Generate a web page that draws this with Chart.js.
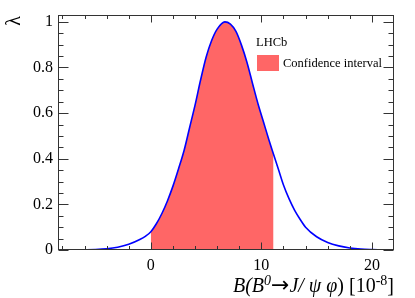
<!DOCTYPE html>
<html><head><meta charset="utf-8">
<script src="https://cdn.jsdelivr.net/npm/chart.js@4"></script>
<style>html,body{margin:0;padding:0;background:#fff;}#wrap{width:415px;height:298px;}</style>
</head><body><div id="wrap"><canvas id="c" width="415" height="298"></canvas></div>
<script>
// Data
const xValues    = [-8.4, -6, -5, -4, -3, -2, -1, -0.5, 0, 0.5, 1, 1.5, 2, 2.5, 3, 3.5, 4, 4.5, 5, 5.5, 6, 6.7, 7.2, 7.7, 8.2, 8.7, 9.2, 9.7, 10.2, 10.7, 11.1, 11.6, 12, 12.5, 13, 13.5, 14, 15, 16, 17, 18, 19, 20, 22];
const likelihood = [0, 0.001, 0.002, 0.005, 0.012, 0.025, 0.046, 0.06, 0.08, 0.115, 0.16, 0.215, 0.28, 0.355, 0.435, 0.535, 0.635, 0.745, 0.845, 0.918, 0.968, 1.0, 0.99, 0.958, 0.898, 0.822, 0.73, 0.64, 0.56, 0.48, 0.42, 0.345, 0.285, 0.225, 0.175, 0.135, 0.10, 0.058, 0.033, 0.018, 0.009, 0.004, 0.002, 0];
const ciLow = 0, ciHigh = 11.1;
const xTicks = [0, 10, 20];
const yTicks = [0, 0.2, 0.4, 0.6, 0.8, 1];
const xRange = [-8.4, 22];
const yRange = [0, 1.03];
const legendHeader = 'LHCb';
const legendLabel = 'Confidence interval';
const yTitle = 'λ';

const FONT = '"Liberation Serif", "DejaVu Serif", serif';
const curvePts = xValues.map((x, i) => ({x: x, y: likelihood[i]}));
const ciPts = curvePts.filter(p => p.x >= ciLow && p.x <= ciHigh);

const framePlugin = {
  id: 'frame',
  afterDraw(chart) {
    const ctx = chart.ctx, a = chart.chartArea;
    const xs = chart.scales.x, ys = chart.scales.y;
    ctx.save();
    ctx.strokeStyle = '#333';
    ctx.lineWidth = 1;
    const L = Math.round(a.left) + 0.5, R = Math.round(a.right) - 0.5;
    const T = Math.round(a.top) + 0.5, B = Math.round(a.bottom) - 0.5;
    ctx.strokeRect(L, T, R - L, B - T);
    ctx.beginPath();
    for (let v = -8; v <= 22; v += 2) {
      const px = Math.round(xs.getPixelForValue(v)) + 0.5;
      if (px <= L || px >= R) continue;
      const len = (v % 10 === 0) ? 7 : 3.5;
      ctx.moveTo(px, B); ctx.lineTo(px, B - len);
      ctx.moveTo(px, T); ctx.lineTo(px, T + len);
    }
    for (let k = 0; k <= 20; k++) {
      const v = k * 0.05;
      const py = Math.round(ys.getPixelForValue(v)) + 0.5;
      const len = (k % 4 === 0) ? 10 : 5;
      ctx.moveTo(L, py); ctx.lineTo(L + len, py);
      ctx.moveTo(R, py); ctx.lineTo(R - len, py);
    }
    ctx.stroke();

    // legend
    ctx.fillStyle = '#000';
    ctx.font = '12.5px ' + FONT;
    ctx.textBaseline = 'alphabetic';
    ctx.textAlign = 'left';
    ctx.fillText(legendHeader, 256, 46);
    ctx.fillStyle = '#ff6666';
    ctx.fillRect(257, 55, 22, 16);
    ctx.fillStyle = '#000';
    ctx.textBaseline = 'middle';
    ctx.fillText(legendLabel, 283, 64);

    // y title (rotated)
    ctx.save();
    ctx.translate(15, 21);
    ctx.rotate(-Math.PI / 2);
    ctx.font = '20px ' + FONT;
    ctx.textAlign = 'center';
    ctx.textBaseline = 'middle';
    ctx.fillText(yTitle, 0, 0);
    ctx.restore();

    // x title
    const parts = [
      {t: 'B(B', f: 'italic 20px ' + FONT, dy: 0},
      {t: '0', f: 'italic 14px ' + FONT, dy: -7},
      {t: '→', f: '22px "DejaVu Sans", sans-serif', dy: 0},
      {t: 'J/ ψ φ', f: 'italic 20px ' + FONT, dy: 0},
      {t: ') [10', f: '20px ' + FONT, dy: 0},
      {t: '-8', f: '14px ' + FONT, dy: -7},
      {t: ']', f: '20px ' + FONT, dy: 0}
    ];
    ctx.textBaseline = 'alphabetic';
    ctx.textAlign = 'left';
    let total = 0;
    parts.forEach(p => { ctx.font = p.f; p.w = ctx.measureText(p.t).width; total += p.w; });
    let x = 394 - total;
    parts.forEach(p => { ctx.font = p.f; ctx.fillText(p.t, x, 292 + p.dy); x += p.w; });
    ctx.restore();
  }
};

new Chart(document.getElementById('c'), {
  type: 'line',
  data: {
    datasets: [
      {
        label: 'curve', data: curvePts, borderColor: '#0000ff', borderWidth: 1.6,
        pointRadius: 0, fill: false, cubicInterpolationMode: 'monotone', order: 0
      },
      {
        label: legendLabel, data: ciPts, borderWidth: 0, borderColor: 'rgba(0,0,0,0)',
        backgroundColor: '#ff6666', pointRadius: 0, fill: 'origin',
        cubicInterpolationMode: 'monotone', order: 1
      }
    ]
  },
  options: {
    responsive: false, animation: false, devicePixelRatio: 1,
    layout: {padding: {top: 15, right: 21, left: 0, bottom: 0}},
    plugins: {legend: {display: false}, tooltip: {enabled: false}},
    scales: {
      x: {
        type: 'linear', min: xRange[0], max: xRange[1],
        afterBuildTicks: s => { s.ticks = xTicks.map(v => ({value: v})); },
        afterFit: s => { s.height = 48; },
        grid: {display: false, drawTicks: false}, border: {display: false},
        ticks: {font: {family: FONT, size: 16}, color: '#000', padding: 6, maxRotation: 0, autoSkip: false,
                callback: v => String(v)}
      },
      y: {
        min: yRange[0], max: yRange[1],
        afterBuildTicks: s => { s.ticks = yTicks.map(v => ({value: v})); },
        afterFit: s => { s.width = 58; },
        grid: {display: false, drawTicks: false}, border: {display: false},
        ticks: {font: {family: FONT, size: 16}, color: '#000', padding: 5, autoSkip: false,
                callback: v => String(Math.round(v * 10) / 10)}
      }
    }
  },
  plugins: [framePlugin]
});
</script>
</body></html>
